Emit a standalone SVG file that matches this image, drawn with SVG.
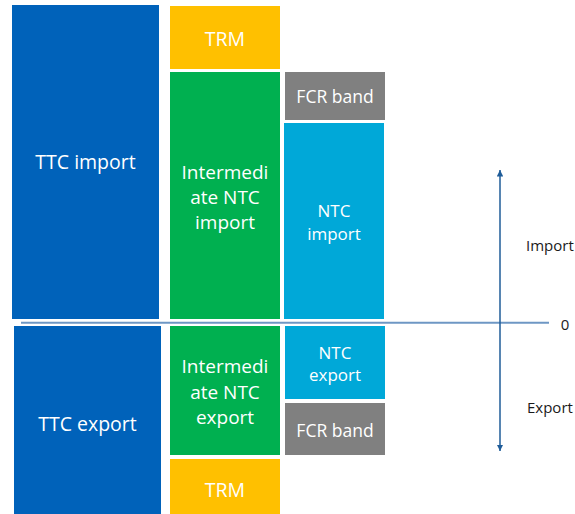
<svg xmlns="http://www.w3.org/2000/svg" width="575" height="514" viewBox="0 0 575 514">
<defs>
<style>
.box text{font-family:"Open Sans","Noto Sans","DejaVu Sans",sans-serif;fill:#ffffff;text-anchor:middle}
.big{font-size:19.5px}
.int{font-size:19px}
.mid{font-size:17.5px}
.sm{font-size:17px}
.lbl{font-family:"Open Sans","Noto Sans","DejaVu Sans",sans-serif;font-size:15px;fill:#1a1a1a}
.ttc{fill:#0062BA}
.trm{fill:#FFC000}
.grn{fill:#00B050}
.gry{fill:#808080}
.ntc{fill:#00A8D8}
</style>
<marker id="ah" viewBox="0 0 10 10" refX="10" refY="5" markerWidth="6.5" markerHeight="6.5" markerUnits="userSpaceOnUse" orient="auto-start-reverse">
<path d="M0,0 L10,5 L0,10 Z" fill="#1F5C99"/>
</marker>
</defs>
<g id="ttc-import" class="box"><rect class="ttc" x="12" y="5" width="147" height="314"/><text class="big" x="85.5" y="169">TTC import</text></g>
<g id="ttc-export" class="box"><rect class="ttc" x="14" y="326" width="147" height="188"/><text class="big" x="87.5" y="431">TTC export</text></g>
<g id="trm-top" class="box"><rect class="trm" x="170" y="6" width="110" height="63"/><text class="big" x="225" y="46">TRM</text></g>
<g id="int-import" class="box"><rect class="grn" x="170" y="72" width="110" height="247"/><text class="int" x="225" y="179">Intermedi</text><text class="int" x="225" y="204">ate NTC</text><text class="int" x="225" y="229">import</text></g>
<g id="int-export" class="box"><rect class="grn" x="170" y="326" width="110" height="129"/><text class="int" x="225" y="373">Intermedi</text><text class="int" x="225" y="398.5">ate NTC</text><text class="int" x="225" y="423.5">export</text></g>
<g id="trm-bottom" class="box"><rect class="trm" x="170" y="459" width="110" height="55"/><text class="big" x="225" y="497">TRM</text></g>
<g id="fcr-top" class="box"><rect class="gry" x="285" y="72" width="100" height="48"/><text class="mid" x="335" y="103">FCR band</text></g>
<g id="ntc-import" class="box"><rect class="ntc" x="284" y="123" width="100" height="196"/><text class="sm" x="334" y="217">NTC</text><text class="sm" x="334" y="240">import</text></g>
<g id="ntc-export" class="box"><rect class="ntc" x="285" y="326" width="100" height="73"/><text class="sm" x="335" y="359">NTC</text><text class="sm" x="335" y="381">export</text></g>
<g id="fcr-bottom" class="box"><rect class="gry" x="285" y="403" width="100" height="52"/><text class="mid" x="335" y="437">FCR band</text></g>
<g id="connectors">
<line x1="21" y1="322.7" x2="549" y2="322.7" stroke="#6E97C4" stroke-width="2"/>
<line x1="500" y1="170" x2="500" y2="451" stroke="#1F5C99" stroke-width="1.5" marker-start="url(#ah)" marker-end="url(#ah)"/>
</g>
<g id="labels">
<text class="lbl" x="526" y="251">Import</text>
<text class="lbl" x="527" y="413">Export</text>
<text class="lbl" x="565" y="329.5" text-anchor="middle">0</text>
</g>
</svg>
